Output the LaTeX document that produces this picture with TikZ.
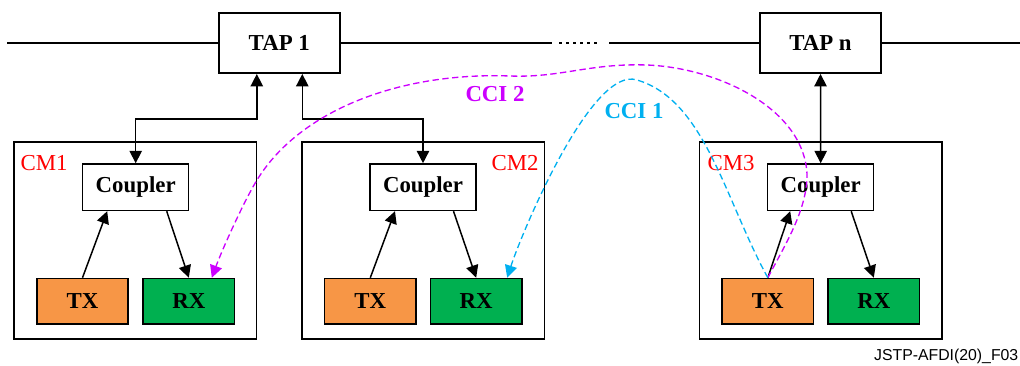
\documentclass[tikz,border=0pt]{standalone}
\usepackage{fontspec}
\setmainfont{Liberation Serif}
\newfontfamily\footfont{Liberation Sans}
\usepackage{xcolor}
\usetikzlibrary{arrows.meta}
\definecolor{txorange}{HTML}{F79646}
\definecolor{rxgreen}{HTML}{00B050}
\definecolor{cciviolet}{RGB}{204,0,255}
\definecolor{ccicyan}{HTML}{00B0F0}

\begin{document}
\begin{tikzpicture}[
    x=0.02cm, y=-0.02cm,
    line width=0.85pt,
    box/.style={draw, minimum width=1.83cm, minimum height=0.91cm, inner sep=0pt, font=\fontsize{13pt}{15pt}\selectfont\bfseries},
    tap/.style={box, minimum width=2.42cm, minimum height=1.21cm},
    coupler/.style={box, minimum width=2.12cm, minimum height=0.93cm},
    txbox/.style={box, fill=txorange},
    rxbox/.style={box, fill=rxgreen},
    module/.style={draw, minimum width=4.85cm, minimum height=3.95cm, inner sep=0pt},
    cmlabel/.style={text=red, inner sep=0pt, font=\fontsize{13pt}{15pt}\selectfont},
    ccilabel/.style={inner sep=0pt, font=\fontsize{13pt}{15pt}\selectfont\bfseries},
    arrow/.style={-{Triangle[length=7pt, width=7pt]}},
    biarrow/.style={{Triangle[length=7pt, width=7pt]}-{Triangle[length=7pt, width=7pt]}},
    cci/.style={dash pattern=on 3.6pt off 2pt, line width=0.75pt, -{Triangle[length=7pt, width=7pt]}}
]
    \useasboundingbox (0,0) rectangle (1020,365);

    % bus with the taps
    \node[tap] (tap1) at (279.3,43) {TAP 1};
    \node[tap] (tapn) at (820.5,43) {TAP n};
    \coordinate (busL) at (7,43);
    \coordinate (gapL) at (551.7,43);
    \coordinate (dotL) at (559,43);
    \coordinate (dotR) at (600,43);
    \coordinate (gapR) at (609,43);
    \coordinate (busR) at (1020,43);
    \draw (busL) -- (tap1);
    \draw (tap1) -- (gapL);
    \draw[dash pattern=on 1.5pt off 2.5pt] (dotL) -- (dotR);
    \draw (gapR) -- (tapn);
    \draw (tapn) -- (busR);

    % modules
    \node[module] (cm1) at (135.3,240.5) {};
    \node[module] (cm2) at (423.2,240.5) {};
    \node[module] (cm3) at (820.7,240.5) {};
    \node[cmlabel] (cm1lbl) at (44,163) {CM1};
    \node[cmlabel] (cm2lbl) at (515,163) {CM2};
    \node[cmlabel] (cm3lbl) at (731,163) {CM3};

    \node[coupler] (cpl1) at (135.7,187.2) {Coupler};
    \node[coupler] (cpl2) at (423,187.2) {Coupler};
    \node[coupler] (cpl3) at (820.7,187.2) {Coupler};
    \node[txbox] (tx1) at (82.5,301.2) {TX};
    \node[rxbox] (rx1) at (188.8,301.2) {RX};
    \node[txbox] (tx2) at (370.3,301.2) {TX};
    \node[rxbox] (rx2) at (476.2,301.2) {RX};
    \node[txbox] (tx3) at (767.8,301.2) {TX};
    \node[rxbox] (rx3) at (873.8,301.2) {RX};

    % tap links
    \draw[biarrow] ([xshift=-0.45cm]tap1.south) -- ++(0,45) -| (cpl1.north);
    \draw[biarrow] ([xshift=0.46cm]tap1.south) -- ++(0,45) -| (cpl2.north);
    \draw[biarrow] (tapn.south) -- (cpl3.north);

    % inside the modules
    \draw[arrow] (tx1.north) -- ([xshift=-0.57cm]cpl1.south);
    \draw[arrow] ([xshift=0.62cm]cpl1.south) -- (rx1.north);
    \draw[arrow] (tx2.north) -- ([xshift=-0.56cm]cpl2.south);
    \draw[arrow] ([xshift=0.61cm]cpl2.south) -- (rx2.north);
    \draw[arrow] (tx3.north) -- ([xshift=-0.61cm]cpl3.south);
    \draw[arrow] ([xshift=0.61cm]cpl3.south) -- (rx3.north);

    % interference paths
    \draw[cci, cciviolet] (tx3.north) .. controls (785,245) and (807,210) .. (807,175)
        .. controls (805,110) and (720,68) .. (647,65)
        .. controls (590,63) and (560,78) .. (510,76)
        .. controls (400,72) and (300,110) .. (257,180)
        .. controls (244,201) and (222,250) .. ([xshift=0.46cm]rx1.north);
    \draw[cci, ccicyan] (tx3.north) .. controls (725,200) and (705,100) .. (637,80)
        .. controls (592,65) and (522,232) .. ([xshift=0.62cm]rx2.north);
    \node[ccilabel, text=cciviolet] (cci2) at (495,94) {CCI 2};
    \node[ccilabel, text=ccicyan] (cci1) at (634,111) {CCI 1};

    \node[anchor=east, inner sep=0pt, font=\footfont\fontsize{9pt}{11pt}\selectfont] (figid) at (1019,356) {JSTP-AFDI(20)\_F03};
\end{tikzpicture}
\end{document}
